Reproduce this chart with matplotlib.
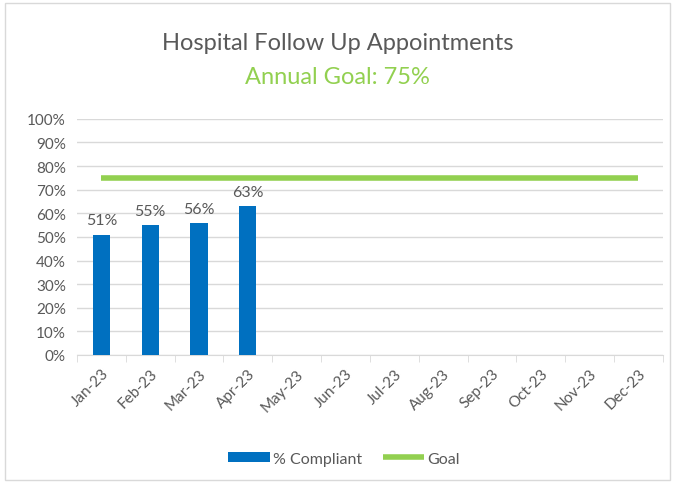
import numpy as np
import matplotlib.pyplot as plt
from matplotlib.patches import Rectangle

months = ['Jan-23', 'Feb-23', 'Mar-23', 'Apr-23', 'May-23', 'Jun-23',
          'Jul-23', 'Aug-23', 'Sep-23', 'Oct-23', 'Nov-23', 'Dec-23']
compliant = [0.51, 0.55, 0.56, 0.63]
goal = [0.75] * 12

plt.rcParams['font.family'] = ['Lato', 'DejaVu Sans']
grey = '#595959'

fig = plt.figure(figsize=(6.75, 4.85), dpi=100)
fig.patches.append(Rectangle((0.008, 0.008), 0.984, 0.984, transform=fig.transFigure,
                             fill=False, edgecolor='#d9d9d9', linewidth=1))
ax = fig.add_axes([0.114, 0.266, 0.868, 0.487])

x = np.arange(len(months))
bars = ax.bar(x[:len(compliant)], compliant, width=0.35, color='#0070C0',
              label='% Compliant', zorder=3)
line, = ax.plot(x, goal, color='#92D050', linewidth=4, label='Goal', zorder=4,
                solid_capstyle='butt')

for xi, v in zip(x, compliant):
    ax.text(xi, v + 0.03, f'{v:.0%}', ha='center', va='bottom', fontsize=11.5, color=grey, zorder=5)

ax.set_xlim(-0.5, len(months) - 0.5)
ax.set_ylim(0, 1)
ax.set_yticks(np.arange(0, 1.01, 0.1))
ax.set_yticklabels([f'{int(round(t*100))}%' for t in np.arange(0, 1.01, 0.1)])
ax.yaxis.grid(True, color='#d9d9d9', linewidth=1, zorder=0)
ax.tick_params(axis='y', length=0, labelsize=11, labelcolor=grey, pad=8)

ax.set_xticks(x)
ax.set_xticklabels(months, rotation=45, ha='right', rotation_mode='anchor')
ax.set_xticks(np.arange(-0.5, len(months), 1), minor=True)
ax.tick_params(axis='x', which='major', length=0, labelsize=11, labelcolor=grey, pad=8)
ax.tick_params(axis='x', which='minor', length=5, color='#d9d9d9', direction='out')

for s in ['top', 'right', 'left']:
    ax.spines[s].set_visible(False)
ax.spines['bottom'].set_color('#d9d9d9')

fig.text(0.5, 0.91, 'Hospital Follow Up Appointments', ha='center', va='center', fontsize=17, color=grey)
fig.text(0.5, 0.84, 'Annual Goal: 75%', ha='center', va='center', fontsize=17, color='#92D050')

fig.legend([bars, line], ['% Compliant', 'Goal'], loc='center',
           bbox_to_anchor=(0.51, 0.052), ncol=2, frameon=False,
           fontsize=11.5, labelcolor=grey, handlelength=2.6, handleheight=0.6,
           handletextpad=0.2, columnspacing=1.3)

fig.savefig('out.png', dpi=100)
